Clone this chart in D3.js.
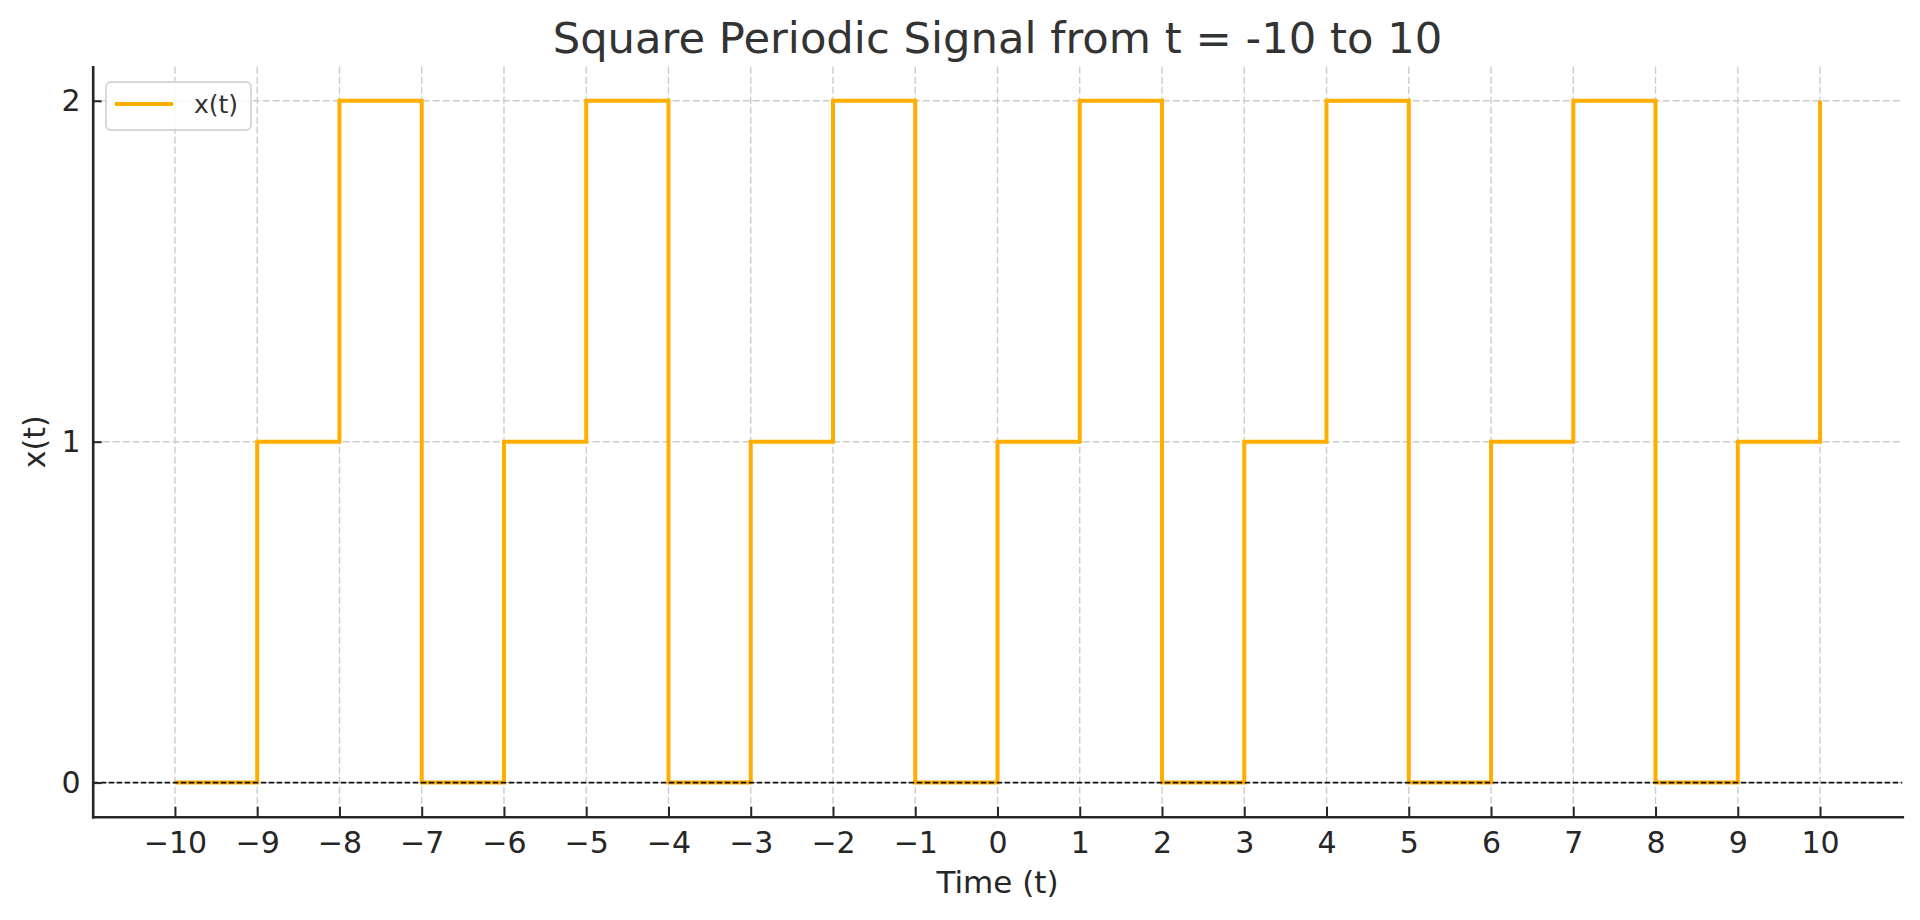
<!DOCTYPE html>
<html>
<head>
<meta charset="utf-8">
<script src="https://cdn.jsdelivr.net/npm/d3@7"></script>
<style>
  body { margin: 0; background: #fff; }
  svg { font-family: "DejaVu Sans", sans-serif; }
</style>
</head>
<body>
<svg id="chart" width="1920" height="920"></svg>
<script>
// signal samples, drawn as a post-step line
const times = [-10, -9, -8, -7, -6, -5, -4, -3, -2, -1, 0, 1, 2, 3, 4, 5, 6, 7, 8, 9, 10];
const values = [0, 1, 2, 0, 1, 2, 0, 1, 2, 0, 1, 2, 0, 1, 2, 0, 1, 2, 0, 1, 2];
const xTicks = times;
const yTicks = [0, 1, 2];
const xDomain = [-11, 11];
const yDomain = [-0.1, 2.1];

const margin = { left: 92.7, right: 17.7, top: 66.7, bottom: 103.3 };
const width = 1920 - margin.left - margin.right;
const height = 920 - margin.top - margin.bottom;

const svg = d3.select("#chart");
const vis = svg.append("g").attr("transform", `translate(${margin.left}, ${margin.top})`);

const xScale = d3.scaleLinear().domain(xDomain).range([0, width]);
const yScale = d3.scaleLinear().domain(yDomain).range([height, 0]);

// grid
const grid = vis.append("g")
    .attr("stroke", "#cccccc")
    .attr("stroke-width", 1.4)
    .attr("stroke-dasharray", "7,3");
grid.selectAll(".vgrid").data(xTicks).enter().append("line")
    .attr("x1", d => xScale(d)).attr("x2", d => xScale(d))
    .attr("y1", 0).attr("y2", height);
grid.selectAll(".hgrid").data(yTicks).enter().append("line")
    .attr("x1", 0).attr("x2", width)
    .attr("y1", d => yScale(d)).attr("y2", d => yScale(d));

// signal
const data = times.map((t, i) => ({ t: t, v: values[i] }));
const stepLine = d3.line()
    .x(d => xScale(d.t))
    .y(d => yScale(d.v))
    .curve(d3.curveStepAfter);

vis.append("path")
    .datum(data)
    .attr("fill", "none")
    .attr("stroke", "#ffae00")
    .attr("stroke-width", 4)
    .attr("stroke-linejoin", "miter")
    .attr("d", stepLine);

// zero line
vis.append("line")
    .attr("x1", 0).attr("x2", width)
    .attr("y1", yScale(0)).attr("y2", yScale(0))
    .attr("stroke", "#111")
    .attr("stroke-width", 1.6)
    .attr("stroke-dasharray", "5.5,2.5");

// axes
const xAxis = vis.append("g")
    .attr("transform", `translate(0, ${height})`)
    .call(d3.axisBottom(xScale).tickValues(xTicks).tickFormat(d3.format("d"))
        .tickSizeInner(-10).tickSizeOuter(0).tickPadding(15));
const yAxis = vis.append("g")
    .call(d3.axisLeft(yScale).tickValues(yTicks).tickFormat(d3.format("d"))
        .tickSizeInner(-9).tickSizeOuter(0).tickPadding(12));

[xAxis, yAxis].forEach(ax => {
    ax.select(".domain").attr("stroke", "#262626").attr("stroke-width", 2.6).attr("stroke-linecap", "square");
    ax.selectAll(".tick line").attr("stroke", "#262626").attr("stroke-width", 2);
    ax.selectAll(".tick text").attr("fill", "#262626").style("font-size", "30px").style("font-family", "DejaVu Sans");
});

// labels
svg.append("text")
    .attr("x", margin.left + width / 2)
    .attr("y", 53)
    .attr("text-anchor", "middle")
    .attr("fill", "#333")
    .style("font-size", "43.3px")
    .text("Square Periodic Signal from t = -10 to 10");

svg.append("text")
    .attr("x", margin.left + width / 2)
    .attr("y", 893)
    .attr("text-anchor", "middle")
    .attr("fill", "#262626")
    .style("font-size", "31px")
    .text("Time (t)");

svg.append("text")
    .attr("transform", "rotate(-90)")
    .attr("x", -(margin.top + height / 2))
    .attr("y", 45)
    .attr("text-anchor", "middle")
    .attr("fill", "#262626")
    .style("font-size", "30px")
    .text("x(t)");

// legend
const legend = svg.append("g").attr("transform", "translate(106, 82)");
legend.append("rect")
    .attr("width", 145).attr("height", 48)
    .attr("rx", 5)
    .attr("fill", "#fff").attr("fill-opacity", 0.85)
    .attr("stroke", "#d6d6d6").attr("stroke-width", 1.8);
legend.append("line")
    .attr("x1", 9).attr("x2", 67)
    .attr("y1", 22).attr("y2", 22)
    .attr("stroke", "#ffae00").attr("stroke-width", 4);
legend.append("text")
    .attr("x", 88).attr("y", 31)
    .attr("fill", "#333")
    .style("font-size", "25px")
    .text("x(t)");
</script>
</body>
</html>
